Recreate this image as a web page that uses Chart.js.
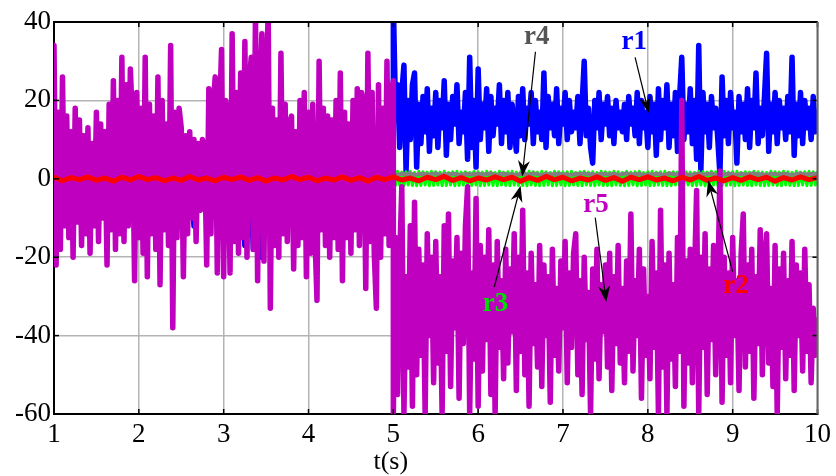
<!DOCTYPE html>
<html>
<head>
<meta charset="utf-8">
<script src="https://cdn.jsdelivr.net/npm/chart.js@4/dist/chart.umd.min.js"></script>
<style>
  html, body { margin: 0; padding: 0; background: #fff; }
  #wrap { width: 836px; height: 476px; }
</style>
</head>
<body>
<div id="wrap"><canvas id="c" width="836" height="476"></canvas></div>
<script>
// residual signals r1..r5, t in seconds
const xTicks = [1, 2, 3, 4, 5, 6, 7, 8, 9, 10];
const yTicks = [-60, -40, -20, 0, 20, 40];

// r5 (magenta): t = 1 .. 5, step 0.025
const r5Pre = [34, -22, 17, -18, 26, -12, 16, -15, 12, -20, 18, -11, 15, -17, 11, -14, 13, -19, 9, -12,
  17, -16, 14, -10, 12, -22, 19, -13, 25, -18, 20, -14, 31, -16, 24, -12, 28, 15, -26, 22,
  -15, 18, -19, 31, -25, 19, -14, 16, -18, 26, -27, 20, -13, 14, -17, 34, -38, 17, -15, 18,
  13, -25, 11, -14, 12, -10, 10, -16, 9, -8, 10, 8, -22, 23, -14, 18, 26, -24, 15, 33,
  -25, 20, 14, -24, 37, -16, 22, -19, 27, -15, 35, -20, 24, 31, -18, 42, -26, 20, 37, -21,
  25, 42, -33, 18, -17, 15, -20, 32, -14, 19, -16, 14, 16, -23, 12, -17, 20, -15, 22, -25,
  17, -19, 19, -14, -31, 30, -13, 18, -17, 16, -20, 15, -15, 20, -18, 27, -26, 17, -15, 14,
  -19, 20, -13, 23, -17, 22, 19, -28, 32, -16, 22, -19, -33, 24, -20, 18, -14, 30, -17, 22, 25];
// r5 (magenta): t = 5 .. 10, step 0.025
const r5Post = [-60, -15, -55, -20, -2, -60, -25, -48, -12, -58, -6, -50, -18, -45, -22, -60, -14, -40, -20, -52,
  -16, -47, -25, -60, -12, -44, -9, -53, -21, -38, -15, -56, -19, -42, -12, -2, -60, -24, -46, -5,
  -58, -17, -49, -20, -41, -13, -55, -22, -60, -16, -43, -26, -51, -18, -47, -23, -39, -14, -54, -20,
  -44, -8, -50, -24, -58, -19, -42, -27, -48, -17, -53, -22, -40, -25, -57, -18, -45, -28, -49, -21,
  -38, -16, -52, -24, -43, -19, -14, -50, -26, -55, -20, -41, -29, -60, -23, -46, -18, -51, -27, -39,
  -22, -48, -19, -54, -25, -42, -17, -47, -28, -52, -21, -44, -9, -49, -26, -40, -18, -56, -23, -45,
  -30, -51, -16, -43, -24, -60, -8, -48, -22, -60, -19, -46, -27, -53, -15, -44, 20, -58, -21, -47,
  -18, -52, -25, -3, -60, -20, -43, -14, -55, -23, -41, -17, -50, -28, 2, -57, -20, -45, -24, -52,
  -15, -40, -26, -54, -19, -9, -48, -22, -44, -18, -56, -25, -42, -13, -50, -21, -14, -47, -28, -53,
  -17, -60, -23, -43, -19, -51, -26, -45, -16, -54, -22, -40, -24, -49, -18, -44, -27, -52, -33, -45, -36];

// r1 (blue): t = 1 .. 5, step 0.05
const r1Pre = [10, -8, 9, -11, 7, -9, 11, -7, 8, -12, 10, -8, 9, -10, 12, -9, 8, -11, 10, -7,
  9, -12, 11, -8, 10, -9, 8, -11, 12, -10, 9, -8, 10, -12, 8, -3, 6, -9, 11, -10,
  9, -13, 10, -12, 8, -17, 10, -18, 9, -20, 11, -10, 9, -8, 10, -11, 12, -9, 8, -10,
  9, -12, 11, -8, 10, -9, 12, -11, 9, -10, 8, -12, 11, -9, 10, -8, 12, -11, 9, -10, 18];
// r1 (blue): t = 5 .. 10, step 0.025
const r1Post = [45, 18, 24, 8, 22, 29, 2, 20, 10, 24, 27, 3, 19, 9, 21, 12, 23, 7, 18, 11,
  22, 8, 20, 13, 25, 6, 19, 10, 21, 14, 24, 9, 17, 12, 22, 5, 31, 8, 20, 3,
  28, 10, 19, 13, 23, 7, 21, 11, 18, 14, 24, 9, 20, 12, 22, 8, 19, 13, 7, 21,
  11, 23, 10, 18, 14, 22, 9, 20, 12, 17, 10, 27, 8, 21, 13, 19, 11, 23, 9, 18,
  14, 22, 10, 20, 12, 17, 13, 21, 9, 19, 30, 11, 18, 8, 4, 20, 13, 22, 10, 19,
  14, 21, 11, 18, 9, 20, 13, 17, 12, 19, 10, 21, 14, 18, 11, 22, 9, 20, 13, 17,
  8, 21, 12, 19, 6, 23, 10, 20, 13, 24, 8, 19, 11, 22, 7, 21, 31, 10, 19, 12,
  23, 9, 20, 5, 34, 2, 22, 12, 19, 8, 21, 13, 18, 10, 1, 26, 11, 20, 9, 22,
  13, 17, 4, 21, 12, 19, 10, 23, 8, 20, 13, 27, 9, 18, 11, 21, 32, 7, 19, 12,
  22, 9, 20, 13, 18, 10, 21, 12, 31, 6, 19, 11, 22, 9, 20, 13, 18, 10, 21, 12, 17];

// r2 (red): t = 1 .. 10, step 0.1
const r2Vals = [0.4, -0.5, 0.3, -0.2, 0.5, -0.4, 0.2, -0.6, 0.4, -0.3, 0.6, -0.2, 0.3, -0.5, 0.2, -0.4, 0.6, -0.3, 0.2, -0.5,
  0.4, -0.2, 0.5, -0.4, 0.3, -0.6, 0.2, -0.3, 0.6, -0.2, 0.4, -0.5, 0.2, -0.3, 0.5, -0.4, 0.3, -0.6, 0.4, -0.2,
  0.5, -0.3, 0.2, -0.5, 0.4, -0.2, 0.6, -0.4, 0.3, -0.5, 0.2, -0.3, 0.5, -0.2, 0.4, -0.6, 0.3, -0.4, 0.6, -0.2,
  0.4, -0.5, 0.2, -0.3, 0.5, -0.4, 0.3, -0.6, 0.4, -0.2, 0.5, -0.3, 0.2, -0.5, 0.4, -0.3, 0.6, -0.4, 0.2, -0.5,
  0.3, -0.4, 0.5, -0.2, 0.4, -0.6, 0.3, -0.3, 0.5, -0.2, 0.3];

// r3 (green): t = 1 .. 5 step 0.1, then t = 5 .. 10 step 0.025
const r3Pre = [0.1, -0.1, 0.2, -0.1, 0.1, -0.2, 0.1, -0.1, 0.2, -0.1, 0.1, -0.2, 0.1, -0.1, 0.2, -0.1, 0.1, -0.2, 0.1, -0.1,
  0.2, -0.1, 0.1, -0.2, 0.1, -0.1, 0.2, -0.1, 0.1, -0.2, 0.1, -0.1, 0.2, -0.1, 0.1, -0.2, 0.1, -0.1, 0.2, -0.1, 0.1];
const r3Post = [1.8, -1.7, 1.9, -1.6, 1.7, -1.8, 1.8, -1.6, 1.9, -1.7, 1.6, -1.8, 1.9, -1.7, 1.8, -1.6, 1.7, -1.8, 1.9, -1.7,
  1.8, -1.6, 1.7, -1.8, 1.9, -1.7, 1.6, -1.6, 1.8, -1.8, 1.9, -1.7, 1.7, -1.6, 1.8, -1.8, 1.6, -1.7, 1.9, -1.6,
  1.8, -1.8, 1.7, -1.7, 1.9, -1.6, 1.8, -1.7, 1.6, -1.8, 1.9, -1.6, 1.7, -1.7, 1.8, -1.8, 1.9, -1.6, 1.7, -1.7,
  1.8, -1.7, 1.6, -1.8, 1.9, -1.6, 1.8, -1.7, 1.7, -1.8, 1.9, -1.7, 1.8, -1.6, 1.6, -1.8, 1.9, -1.7, 1.8, -1.6,
  1.7, -1.8, 1.8, -1.7, 1.9, -1.6, 1.6, -1.7, 1.8, -1.8, 1.9, -1.6, 1.7, -1.7, 1.8, -1.8, 1.6, -1.6, 1.9, -1.7,
  1.8, -1.7, 1.7, -1.8, 1.9, -1.6, 1.8, -1.7, 1.6, -1.8, 1.9, -1.7, 1.7, -1.6, 1.8, -1.8, 1.9, -1.7, 1.6, -1.6,
  1.8, -1.8, 1.9, -1.7, 1.7, -1.6, 1.8, -1.7, 1.9, -1.8, 1.6, -1.7, 1.8, -1.6, 1.7, -1.8, 1.9, -1.7, 1.8, -1.6,
  1.7, -1.8, 1.6, -1.7, 1.9, -1.6, 1.8, -1.8, 1.7, -1.7, 1.9, -1.6, 1.8, -1.7, 1.6, -1.8, 1.9, -1.7, 1.7, -1.6,
  1.8, -1.8, 1.9, -1.7, 1.6, -1.6, 1.8, -1.7, 1.7, -1.8, 1.9, -1.6, 1.8, -1.7, 1.7, -1.8, 1.6, -1.7, 1.9, -1.6,
  1.8, -1.7, 1.7, -1.8, 1.9, -1.6, 1.8, -1.7, 1.6, -1.8, 1.9, -1.7, 1.7, -1.6, 1.8, -1.8, 1.9, -1.7, 1.8, -1.6, 1.7];

// r4 (gray): t = 1 .. 5 step 0.1, then t = 5 .. 10 step 0.05
const r4Pre = [0.1, -0.1, 0.1, 0.0, -0.1, 0.1, 0.0, -0.1, 0.1, -0.1, 0.0, 0.1, -0.1, 0.1, 0.0, -0.1, 0.1, -0.1, 0.0, 0.1,
  -0.1, 0.1, 0.0, -0.1, 0.1, -0.1, 0.0, 0.1, -0.1, 0.1, 0.0, -0.1, 0.1, -0.1, 0.0, 0.1, -0.1, 0.1, 0.0, -0.1, 0.1];
const r4Post = [1.2, 1.0, 1.3, 1.1, 1.4, 1.0, 1.2, 1.3, 1.1, 1.2, 1.4, 1.0, 1.2, 1.1, 1.3, 1.2, 1.0, 1.3, 1.1, 1.2,
  1.3, 1.1, 1.2, 1.4, 1.0, 1.2, 1.3, 1.1, 1.2, 1.0, 1.3, 1.2, 1.1, 1.4, 1.2, 1.0, 1.3, 1.1, 1.2, 1.3,
  1.1, 1.2, 1.0, 1.3, 1.2, 1.4, 1.1, 1.2, 1.0, 1.3, 1.2, 1.1, 1.3, 1.0, 1.2, 1.4, 1.1, 1.2, 1.3, 1.0,
  1.2, 1.1, 1.3, 1.2, 1.0, 1.4, 1.2, 1.1, 1.3, 1.2, 1.0, 1.2, 1.3, 1.1, 1.2, 1.4, 1.0, 1.2, 1.1, 1.3,
  1.2, 1.0, 1.3, 1.1, 1.2, 1.4, 1.1, 1.2, 1.0, 1.3, 1.2, 1.1, 1.3, 1.2, 1.0, 1.2, 1.4, 1.1, 1.2, 1.3, 1.2];

// annotation labels with arrows, positions in data units (t, value)
const notes = [
  { text: "r1", color: "#0000ff", at: [7.84, 35.0], from: [7.85, 31.0], to: [8.01, 16.8] },
  { text: "r4", color: "#555555", at: [6.69, 36.2], from: [6.675, 32.4], to: [6.52, 0.6] },
  { text: "r3", color: "#00dd00", at: [6.205, -31.9], from: [6.19, -27.6], to: [6.50, -1.8] },
  { text: "r5", color: "#c000c0", at: [7.39, -6.6], from: [7.38, -9.9], to: [7.51, -31.4] },
  { text: "r2", color: "#ff0000", at: [9.04, -27.3], from: [9.0, -23.7], to: [8.71, -0.4] }
];

function pts(t0, dt, vals) {
  return vals.map((v, i) => ({ x: t0 + i * dt, y: v }));
}

const serif = "'Liberation Serif', 'DejaVu Serif', serif";

function line(label, data, color, width, order) {
  return {
    label: label, data: data, borderColor: color, backgroundColor: color,
    borderWidth: width, pointRadius: 0, tension: 0, clip: 0,
    borderJoinStyle: "round", borderCapStyle: "round", order: order
  };
}

// frame, inward ticks, arrows and the axis title
const extras = {
  id: "extras",
  afterDatasetsDraw(chart) {
    const { ctx, chartArea: a, scales: { x, y } } = chart;
    ctx.save();
    ctx.lineWidth = 1.5;
    ctx.strokeStyle = "#000";
    xTicks.forEach(t => {
      const px = x.getPixelForValue(t);
      ctx.beginPath(); ctx.moveTo(px, a.top); ctx.lineTo(px, a.top + 5); ctx.stroke();
      ctx.beginPath(); ctx.moveTo(px, a.bottom); ctx.lineTo(px, a.bottom - 5); ctx.stroke();
    });
    yTicks.forEach(t => {
      const py = y.getPixelForValue(t);
      ctx.beginPath(); ctx.moveTo(a.left, py); ctx.lineTo(a.left + 5, py); ctx.stroke();
      ctx.beginPath(); ctx.moveTo(a.right, py); ctx.lineTo(a.right - 5, py); ctx.stroke();
    });
    ctx.lineWidth = 2;
    ctx.beginPath(); ctx.moveTo(a.left, a.top); ctx.lineTo(a.right, a.top); ctx.stroke();
    ctx.strokeStyle = "#666";
    ctx.beginPath(); ctx.moveTo(a.right, a.top); ctx.lineTo(a.right, a.bottom); ctx.stroke();

    notes.forEach(n => {
      const x0 = x.getPixelForValue(n.from[0]), y0 = y.getPixelForValue(n.from[1]);
      const x1 = x.getPixelForValue(n.to[0]), y1 = y.getPixelForValue(n.to[1]);
      const ang = Math.atan2(y1 - y0, x1 - x0);
      const len = 16, half = 6, back = 11;
      ctx.strokeStyle = "#000"; ctx.fillStyle = "#000"; ctx.lineWidth = 1.2;
      ctx.beginPath(); ctx.moveTo(x0, y0);
      ctx.lineTo(x1 - Math.cos(ang) * back, y1 - Math.sin(ang) * back); ctx.stroke();
      ctx.translate(x1, y1); ctx.rotate(ang);
      ctx.beginPath(); ctx.moveTo(0, 0); ctx.lineTo(-len, -half); ctx.lineTo(-back, 0); ctx.lineTo(-len, half);
      ctx.closePath(); ctx.fill();
      ctx.setTransform(1, 0, 0, 1, 0, 0);
      ctx.font = "bold 27px " + serif;
      ctx.fillStyle = n.color; ctx.textAlign = "center"; ctx.textBaseline = "middle";
      ctx.fillText(n.text, x.getPixelForValue(n.at[0]), y.getPixelForValue(n.at[1]));
    });

    ctx.font = "26px " + serif;
    ctx.fillStyle = "#000"; ctx.textAlign = "center"; ctx.textBaseline = "middle";
    ctx.fillText("t(s)", x.getPixelForValue(4.97), 462);
    ctx.restore();
  }
};

new Chart(document.getElementById("c"), {
  type: "line",
  data: {
    datasets: [
      line("r1", pts(1, 0.05, r1Pre).concat(pts(5, 0.025, r1Post)), "#0000ff", 5.5, 5),
      line("r3", pts(1, 0.1, r3Pre).concat(pts(5, 0.025, r3Post)), "#00ff00", 3, 4),
      line("r4", pts(1, 0.1, r4Pre).concat(pts(5, 0.05, r4Post)), "#808080", 4, 3),
      line("r5", pts(1, 0.025, r5Pre).concat(pts(5, 0.025, r5Post)), "#bf00bf", 5.5, 2),
      line("r2", pts(1, 0.1, r2Vals), "#ff0000", 5, 1)
    ]
  },
  options: {
    responsive: false, animation: false, devicePixelRatio: 1,
    layout: { padding: { top: 22, right: 16, left: 0, bottom: 0 } },
    plugins: { legend: { display: false }, tooltip: { enabled: false } },
    scales: {
      x: {
        type: "linear", min: 1, max: 10,
        afterFit: s => { s.height = 62; },
        afterBuildTicks: s => { s.ticks = xTicks.map(v => ({ value: v })); },
        ticks: { color: "#000", font: { family: serif, size: 27 }, padding: 5, maxRotation: 0 },
        grid: { color: "#b4b4b4", lineWidth: 1.5, drawTicks: false },
        border: { color: "#000", width: 2 }
      },
      y: {
        type: "linear", min: -60, max: 40,
        afterFit: s => { s.width = 54; },
        afterBuildTicks: s => { s.ticks = yTicks.map(v => ({ value: v })); },
        ticks: { color: "#000", font: { family: serif, size: 27 }, padding: 3 },
        grid: { color: "#b4b4b4", lineWidth: 1.5, drawTicks: false },
        border: { color: "#000", width: 2 }
      }
    }
  },
  plugins: [extras]
});
</script>
</body>
</html>
